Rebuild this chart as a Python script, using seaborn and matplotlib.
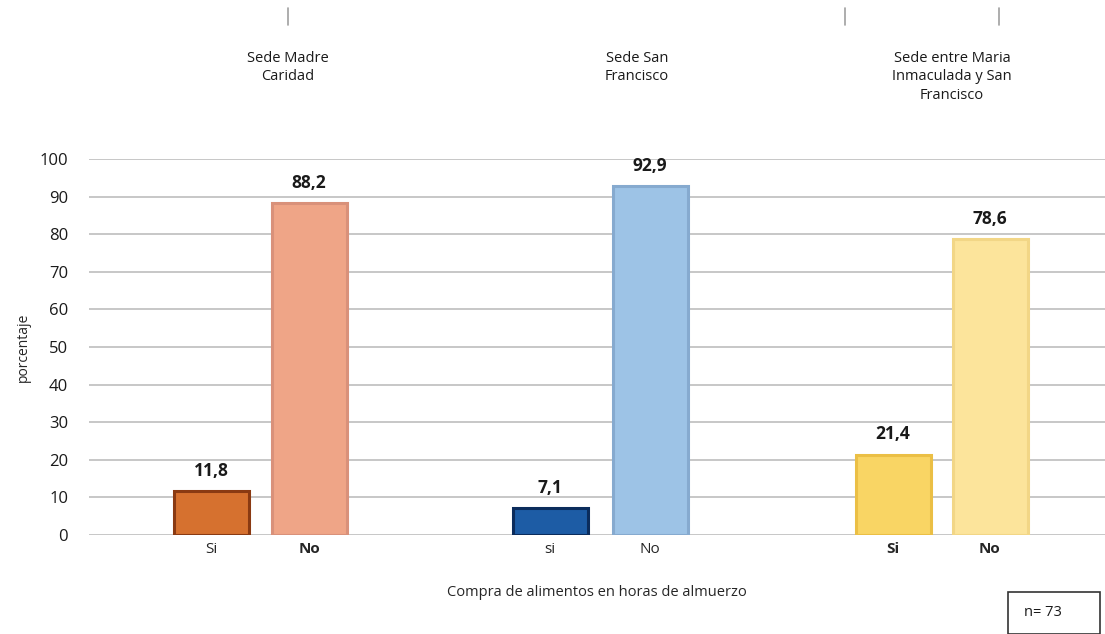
import matplotlib
matplotlib.use("Agg")
import matplotlib.pyplot as plt
import seaborn as sns
import pandas as pd
from matplotlib.lines import Line2D
from matplotlib.patches import Rectangle

# Data
sedes = ["Sede Madre\nCaridad", "Sede San\nFrancisco", "Sede entre Maria\nInmaculada y San\nFrancisco"]
respuestas = ["Si", "No", "si", "No", "Si", "No"]
valores = [11.8, 88.2, 7.1, 92.9, 21.4, 78.6]
grupo = [0, 0, 1, 1, 2, 2]
valores_fmt = ["11,8", "88,2", "7,1", "92,9", "21,4", "78,6"]

# Layout / styling
posiciones = [211, 309, 550, 650, 893, 990]
relleno = ["#D6712F", "#EFA587", "#1D5CA5", "#9DC3E6", "#F9D564", "#FCE49B"]
borde = ["#8A3A12", "#D9917A", "#0B2C5C", "#86AACF", "#EBBF45", "#F2D686"]
peso_tick = ["normal", "bold", "normal", "normal", "bold", "bold"]

df = pd.DataFrame({"pos": posiciones, "valor": valores, "resp": respuestas})

sns.set_style("white")
plt.rcParams["font.family"] = ["Open Sans", "DejaVu Sans"]

W, H = 1105, 634
fig = plt.figure(figsize=(W / 100, H / 100), dpi=100)
ax = fig.add_axes([89 / W, (H - 535) / H, (1105 - 89) / W, (535 - 159) / H])

sns.barplot(data=df, x="pos", y="valor", hue="pos", native_scale=True,
            palette=relleno, saturation=1, width=75 / 97, legend=False, ax=ax,
            linewidth=0, zorder=3)

for patch, ec in zip(ax.patches, borde):
    patch.set_edgecolor(ec)
    patch.set_linewidth(2.2)

ax.set_xlim(89, 1105)
ax.set_ylim(0, 100)
ax.set_yticks(range(0, 101, 10))
ax.yaxis.grid(True, color="#BEBEBE", linewidth=1.2, zorder=0)
ax.xaxis.grid(False)
ax.set_axisbelow(True)
for s in ax.spines.values():
    s.set_visible(False)
ax.tick_params(axis="y", length=0, pad=15, labelsize=12, labelcolor="#1a1a1a")
ax.set_xticks(posiciones)
ax.set_xticklabels(respuestas, fontsize=11)
for lab, w in zip(ax.get_xticklabels(), peso_tick):
    lab.set_fontweight(w)
ax.tick_params(axis="x", length=0, pad=5)

ax.set_ylabel("porcentaje", fontsize=10, labelpad=6)
ax.set_xlabel("Compra de alimentos en horas de almuerzo", fontsize=10.5, labelpad=20)

# Value labels
for x, v, t in zip(posiciones, valores, valores_fmt):
    ax.annotate(t, (x, v), xytext=(0, 8), textcoords="offset points",
                ha="center", va="bottom", fontsize=12.5, fontweight="bold",
                color="#1a1a1a")

# Group titles
centros_titulo = [288, 637, 952]
for cx, s in zip(centros_titulo, sedes):
    fig.text(cx / W, 1 - 51 / H, s, ha="center", va="top", fontsize=10.5,
             linespacing=1.3, color="#1a1a1a")

# Header separators
for lx in [288, 845, 999]:
    fig.add_artist(Line2D([lx / W, lx / W], [1 - 8 / H, 1 - 25 / H],
                          color="#A0A0A0", linewidth=1.2))

# Sample size box
fig.add_artist(Rectangle((1008 / W, 0), 92 / W, 42 / H, fill=False,
                         edgecolor="#333333", linewidth=1.2,
                         transform=fig.transFigure))
fig.text(1043 / W, 21 / H, "n= 73", ha="center", va="center", fontsize=10.5,
         color="#1a1a1a")

fig.savefig("out.png", dpi=100)
